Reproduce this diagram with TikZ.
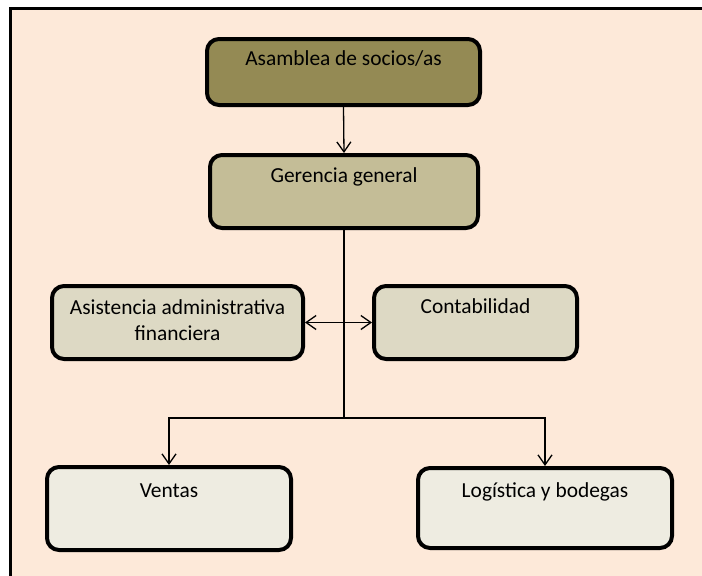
\documentclass[tikz,border=0pt]{standalone}
\usepackage{fontspec}
\setmainfont{Carlito}
\usetikzlibrary{arrows.meta}
\definecolor{bgc}{HTML}{FDE9D9}
\definecolor{cA}{HTML}{948A54}
\definecolor{cB}{HTML}{C4BD97}
\definecolor{cC}{HTML}{DDD9C4}
\definecolor{cD}{HTML}{EEECE1}
\begin{document}
\begin{tikzpicture}[x=1pt,y=-1pt,
  box/.style={draw=black, line width=4pt, rounded corners=12pt, inner sep=0pt, anchor=north west},
  lbl/.style={font=\fontsize{21.4}{26}\selectfont, anchor=base, inner sep=0pt, align=center},
  conn/.style={line width=1.3pt},
  tip/.tip={Straight Barb[length=10pt,width=14pt]},
  arr/.style={conn, -tip}]
\useasboundingbox (0,0) rectangle (702,576);
\fill[bgc] (10,8) rectangle (702,576);
\draw[line width=3pt] (10,576) -- (10,8) -- (702,8);

\node[box, fill=cA, minimum width=273pt, minimum height=66pt] (asam) at (205,37) {};
\node[box, fill=cB, minimum width=268pt, minimum height=73pt] (ger) at (208,153) {};
\node[box, fill=cC, minimum width=251pt, minimum height=73pt] (asis) at (50,284) {};
\node[box, fill=cC, minimum width=203pt, minimum height=73pt] (cont) at (372,284) {};
\node[box, fill=cD, minimum width=244pt, minimum height=83pt] (ven) at (45,465) {};
\node[box, fill=cD, minimum width=254pt, minimum height=80pt] (log) at (416,466) {};

\node[lbl] (tasam) at (asam.north |- 0,65) {Asamblea de socios/as};
\node[lbl] (tger) at (ger.north |- 0,182) {Gerencia general};
\node[lbl] (tasis) at (asis.north |- 0,340) {Asistencia administrativa\\financiera};
\node[lbl] (tcont) at (cont.north |- 0,313) {Contabilidad};
\node[lbl] (tven) at (ven.north |- 0,497) {Ventas};
\node[lbl] (tlog) at (log.north |- 0,497) {Logística y bodegas};

\draw[arr] (asam.south) -- (ger.north);
\coordinate (j) at (ger.south |- 0,418);
\draw[conn] (ger.south) -- (j);
\draw[conn, tip-tip] (asis.east) -- (cont.west);
\draw[arr] (j) -| (ven.north);
\draw[arr] (j) -| (log.north);
\end{tikzpicture}
\end{document}
